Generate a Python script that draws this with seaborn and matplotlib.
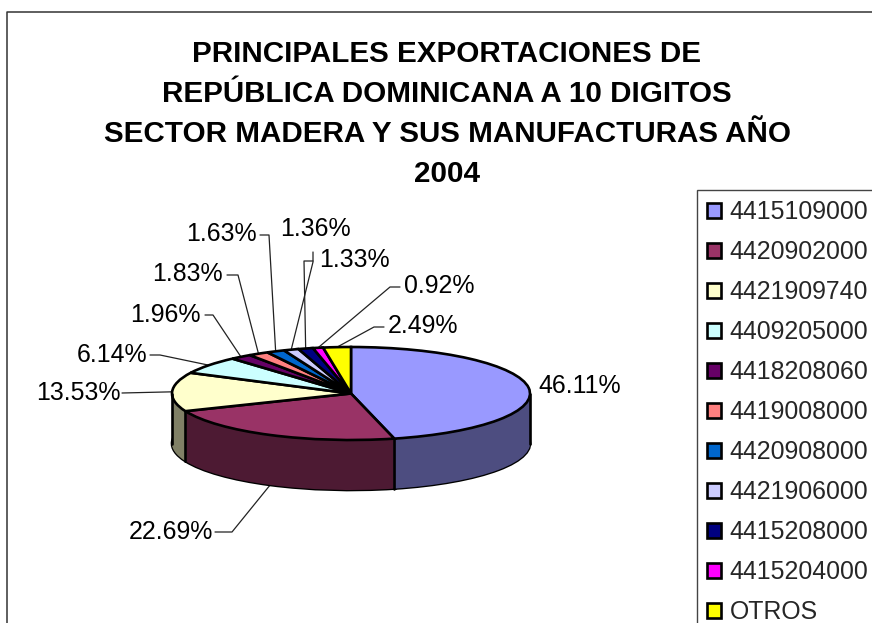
#PRINCIPALES EXPORTACIONES - 3D LOOKING PIE
import numpy as np
import seaborn as sns
import matplotlib.pyplot as plt

codes = ["4415109000", "4420902000", "4421909740", "4409205000", "4418208060", "4419008000",
         "4420908000", "4421906000", "4415208000", "4415204000", "OTROS"]
shares = [46.11, 22.69, 13.53, 6.14, 1.96, 1.83, 1.63, 1.36, 1.33, 0.92, 2.49]
hex_colors = ["#9999FF", "#993366", "#FFFFCC", "#CCFFFF", "#660066", "#FF8080",
              "#0066CC", "#CCCCFF", "#000080", "#FF00FF", "#FFFF00"]
title = "PRINCIPALES EXPORTACIONES DE\nREPÚBLICA DOMINICANA A 10 DIGITOS\nSECTOR MADERA Y SUS MANUFACTURAS AÑO\n2004"

# layout in pixels
W, H = 872, 623
cx, cy, rx, ry, depth = 351, 393.5, 179, 46.5, 50
label_xy = [(538, 386, "left"), (213, 532, "right"), (121, 393, "right"), (147, 355, "right"),
            (201, 315, "right"), (223, 274, "right"), (257, 234, "right"), (280, 229, "left"),
            (319, 260, "left"), (404, 286, "left"), (388, 326, "left")]
knees = [None, [(215, 532), (232, 532)], [(122, 393)], [(150, 355), (160, 355)],
         [(205, 315), (213, 315)], [(227, 275), (238, 275)], [(260, 235), (269, 235)],
         [(313, 252), (313, 262)], [(313, 261), (304, 261)],
         [(400, 287), (390, 287)], [(384, 327), (374, 327)]]

sns.set_theme(style="white")
plt.rcParams['font.family'] = ['Liberation Sans', 'DejaVu Sans']

palette = sns.color_palette(hex_colors)
side_palette = [tuple(c * 0.5 for c in col) for col in palette]

fig = plt.figure(figsize=(W / 100, H / 100), dpi=100, facecolor="white")

# overlay in pixel coords for frame, labels and leaders
ov = fig.add_axes([0, 0, 1, 1])
ov.set_xlim(0, W)
ov.set_ylim(H, 0)
ov.axis("off")
ov.plot([7, 7, W + 5], [H + 5, 11.5, 11.5], color="#333333", lw=1.1)

# unit circle axes, squashed so the pie looks tilted
d = depth / ry
ax = fig.add_axes([(cx - rx) / W, 1 - (cy + ry + depth) / H, 2 * rx / W, (2 * ry + depth) / H])
ax.patch.set_alpha(0)
edge = {"edgecolor": "black", "linewidth": 1.9, "clip_on": False}

# sides: stack of dark pies, bottom one carries the outline
ax.pie(shares, colors=side_palette, startangle=90, counterclock=False, center=(0, -d), wedgeprops=edge)
for off in np.linspace(d, 0, depth + 1):
    ax.pie(shares, colors=side_palette, startangle=90, counterclock=False, center=(0, -off),
           wedgeprops={"linewidth": 0, "clip_on": False})

# vertical side edges where slices meet on the front
ends = np.cumsum(shares) / sum(shares) * 2 * np.pi
for a in ends:
    if np.cos(a) < 0:
        ax.plot([np.sin(a)] * 2, [np.cos(a), np.cos(a) - d], color="black", lw=1.9, clip_on=False)
ax.plot([1, 1], [0, -d], color="black", lw=1.9, clip_on=False)
ax.plot([-1, -1], [0, -d], color="black", lw=1.9, clip_on=False)

wedges, _ = ax.pie(shares, colors=palette, startangle=90, counterclock=False, wedgeprops=edge)
ax.set_aspect("auto")
ax.set_xlim(-1, 1)
ax.set_ylim(-1 - d, 1)
ax.axis("off")

# labels with leader lines running to the rim of each slice
mids = (np.cumsum(shares) - np.array(shares) / 2) / sum(shares) * 2 * np.pi
for v, mid, (x, y, ha), knee in zip(shares, mids, label_xy, knees):
    ov.text(x, y, f"{v:.2f}%", ha=ha, va="center", fontsize=17.9, color="black")
    if knee is None:
        continue
    rim_x = cx + rx * np.sin(mid)
    rim_y = cy - ry * np.cos(mid)
    if np.cos(mid) < -0.5:
        rim_y += depth
    pts = knee + [(rim_x, rim_y)]
    ov.plot([p[0] for p in pts], [p[1] for p in pts], color="#222222", lw=0.9)

fig.suptitle(title, x=447 / W, y=1 - 40 / H, ha="center", va="top", fontsize=21.3, fontweight="bold",
             linespacing=1.54, color="black")

leg = fig.legend(wedges, codes, loc="upper left", bbox_to_anchor=(697 / W, 1 - 190 / H), borderaxespad=0,
                 fontsize=17.9, frameon=True, fancybox=False, edgecolor="#444444", framealpha=1,
                 handlelength=0.56, handleheight=0.56, handletextpad=0.33, labelspacing=0.643, borderpad=0.42)
leg.get_frame().set_linewidth(1.0)

fig.savefig("out.png", dpi=100)
